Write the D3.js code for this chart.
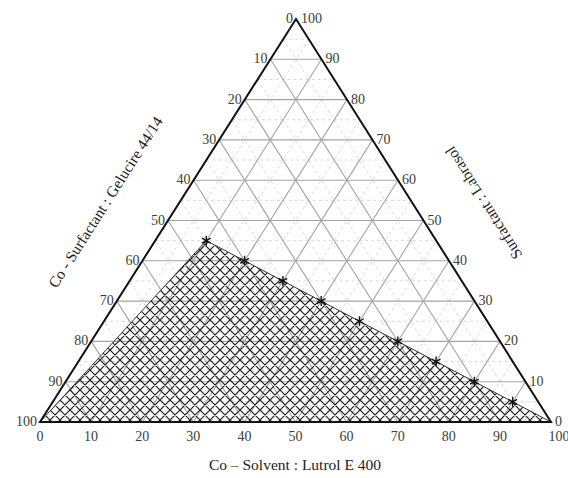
<!DOCTYPE html>
<html>
<head>
<meta charset="utf-8">
<script src="https://cdn.jsdelivr.net/npm/d3@7"></script>
<style>
  html, body { margin: 0; padding: 0; background: #fff; }
  svg { display: block; }
  .tick { font-family: "Liberation Serif", "DejaVu Serif", serif; font-size: 14px; fill: #3a4236; }
  .title { font-family: "Liberation Serif", "DejaVu Serif", serif; font-size: 15.5px; fill: #222; }
</style>
</head>
<body>
<svg id="chart" width="568" height="478"></svg>
<script>
// Pseudo-ternary phase diagram: Surfactant (top), Co-Surfactant (left), Co-Solvent (bottom right)
const tickValues = [0, 10, 20, 30, 40, 50, 60, 70, 80, 90, 100];
const minorValues = [5, 15, 25, 35, 45, 55, 65, 75, 85, 95];

// Boundary points of the microemulsion region (% w/w)
const coSolvent    = [10, 20, 30, 40, 50, 60, 70, 80, 90];
const surfactant   = [45, 40, 35, 30, 25, 20, 15, 10, 5];
const coSurfactant = [45, 40, 35, 30, 25, 20, 15, 10, 5];

const bottomTitle = "Co – Solvent : Lutrol E 400";
const leftTitle = "Co - Surfactant : Gelucire 44/14";
const rightTitle = "Surfactant : Labrasol";

const svg = d3.select("#chart");

// Triangle frame: left vertex, right vertex, apex
const frame = { left: 40, right: 551, base: 422, apexY: 19, apexX: 296 };

const xScale = d3.scaleLinear().domain([0, 100]).range([frame.left, frame.right]);  // co-solvent along base
const yScale = d3.scaleLinear().domain([0, 100]).range([frame.base, frame.apexY]);  // surfactant height
const shift = d3.scaleLinear().domain([0, 100]).range([0, frame.apexX - frame.left]); // lean toward apex

// (co-solvent, surfactant) -> screen position
function pos(c, s) {
  return [xScale(c) + shift(s), yScale(s)];
}

const defs = svg.append("defs");
const pat = defs.append("pattern")
  .attr("id", "crosshatch")
  .attr("patternUnits", "userSpaceOnUse")
  .attr("width", 10).attr("height", 10);
pat.append("path")
  .attr("d", "M0,0L10,10M10,0L0,10M-1,9L1,11M9,-1L11,1M-1,1L1,-1M9,11L11,9")
  .attr("stroke", "#1e1e1e").attr("stroke-width", 1.2).attr("fill", "none");

const grid = svg.append("g");

// Gridlines for each component value v: three families
function gridLines(vals, kind) {
  vals.forEach(v => {
    if (v <= 0 || v >= 100) return;
    const h = [pos(0, v), pos(100 - v, v)];          // constant surfactant
    const c = [pos(v, 0), pos(v, 100 - v)];          // constant co-solvent
    const k = [pos(100 - v, 0), pos(0, 100 - v)];    // constant co-surfactant
    [h, c, k].forEach(seg => {
      const line = grid.append("line")
        .attr("x1", seg[0][0]).attr("y1", seg[0][1])
        .attr("x2", seg[1][0]).attr("y2", seg[1][1]);
      if (kind === "major") {
        line.attr("stroke", "#a3a3a3").attr("stroke-width", 1.1);
      } else {
        line.attr("stroke", "#d2d2d2").attr("stroke-width", 0.9).attr("stroke-dasharray", "3,3");
      }
    });
  });
}
gridLines(minorValues, "minor");
gridLines(tickValues, "major");

// Hatched region
const region = [pos(0, 0)]
  .concat(coSolvent.map((c, i) => pos(c, surfactant[i])))
  .concat([pos(100, 0)]);
const lineGen = d3.line();
svg.append("path")
  .attr("d", lineGen(region) + "Z")
  .attr("fill", "url(#crosshatch)")
  .attr("stroke", "#333").attr("stroke-width", 1);

// Triangle outline
svg.append("path")
  .attr("d", lineGen([pos(0, 0), pos(100, 0), pos(0, 100)]) + "Z")
  .attr("fill", "none").attr("stroke", "#111").attr("stroke-width", 2);

// Asterisk markers
const sym = d3.symbol().type(d3.symbolAsterisk || d3.symbolCross).size(70);
svg.append("g").selectAll("path")
  .data(coSolvent.map((c, i) => pos(c, surfactant[i])))
  .join("path")
  .attr("transform", d => `translate(${d[0]},${d[1]})`)
  .attr("d", sym)
  .attr("fill", "none").attr("stroke", "#111").attr("stroke-width", 1.4);

// Tick labels
const labels = svg.append("g");
tickValues.forEach(v => {
  const pb = pos(v, 0);   // bottom: co-solvent
  labels.append("text").attr("class", "tick")
    .attr("x", pb[0] + (v === 100 ? 8 : 0)).attr("y", pb[1] + 19)
    .attr("text-anchor", "middle").text(v);
  const pl = pos(0, 100 - v);   // left: co-surfactant (0 at apex)
  labels.append("text").attr("class", "tick")
    .attr("x", pl[0] - 3).attr("y", pl[1] + 4)
    .attr("text-anchor", "end").text(v);
  const pr = pos(100 - v, v);   // right: surfactant (0 at right vertex)
  labels.append("text").attr("class", "tick")
    .attr("x", pr[0] + (v === 100 ? 5 : 4)).attr("y", pr[1] + 4)
    .attr("text-anchor", "start").text(v);
});

// Axis titles
svg.append("text").attr("class", "title")
  .attr("x", 295).attr("y", 470).attr("text-anchor", "middle")
  .text(bottomTitle);

const leftAngle = -Math.atan2(frame.base - frame.apexY, frame.apexX - frame.left) * 180 / Math.PI;
svg.append("text").attr("class", "title")
  .attr("transform", `translate(110,205) rotate(${leftAngle})`)
  .attr("text-anchor", "middle")
  .text(leftTitle);

const rightAngle = Math.atan2(frame.apexY - frame.base, frame.apexX - frame.right) * 180 / Math.PI;
svg.append("text").attr("class", "title")
  .attr("transform", `translate(488,200) rotate(${rightAngle})`)
  .attr("text-anchor", "middle")
  .text(rightTitle);
</script>
</body>
</html>
